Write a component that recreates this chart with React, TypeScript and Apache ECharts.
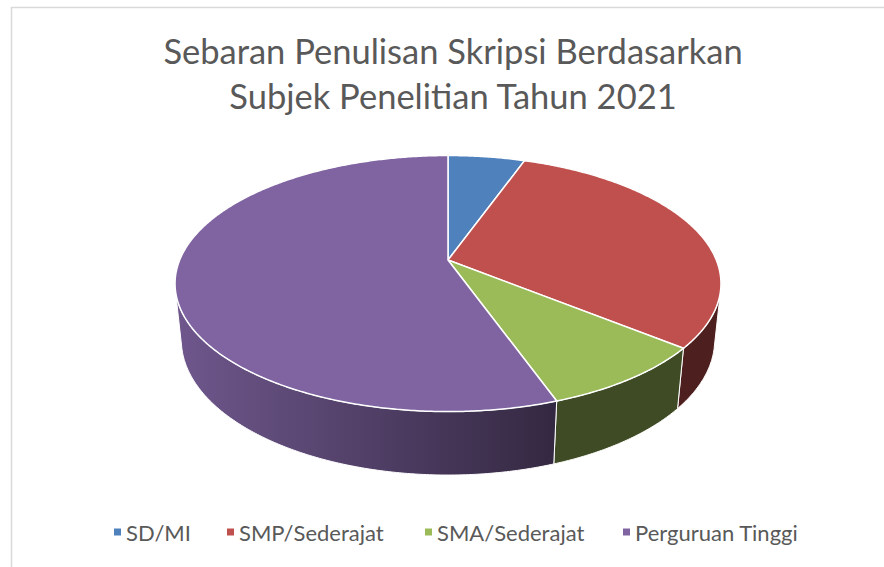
import React, { useEffect, useRef } from "react";
import * as echarts from "echarts";

const categories = ["SD/MI", "SMP/Sederajat", "SMA/Sederajat", "Perguruan Tinggi"];
const values = [5, 28, 8, 51];
const colors = ["#4F81BD", "#C0504D", "#9BBB59", "#8064A2"];
const titleText = "Sebaran Penulisan Skripsi Berdasarkan\nSubjek Penelitian Tahun 2021";

// 3D perspective layout constants
const CX = 448;
const CY = 260;
const A = 268.3;
const PHI = Math.asin(123.7 / 268.3);
const K = 0.184;
const DIST = Math.cos(PHI) / K;
const THICK = 0.238;
const LEGEND_LEFT = [109, 222, 420, 618];

function project(u: number, v: number, z: number): number[] {
  const depth = 1 - (v * Math.cos(PHI) + z * Math.sin(PHI)) / DIST;
  return [CX + (A * u) / depth, CY + (A * (v * Math.sin(PHI) - z * Math.cos(PHI))) / depth];
}
function rim(th: number, z: number) {
  return project(Math.sin(th), -Math.cos(th), z);
}
function shadeHex(hex: string, f: number) {
  const n = parseInt(hex.slice(1), 16);
  const r = Math.round(((n >> 16) & 255) * f);
  const g = Math.round(((n >> 8) & 255) * f);
  const b = Math.round((n & 255) * f);
  return `rgb(${r},${g},${b})`;
}
function factorAt(x: number) {
  return Math.max(0.4, 0.87 - 0.001227 * (x - 175));
}

function arcPoints(a: number, b: number, z: number) {
  const pts: number[][] = [];
  const steps = Math.max(2, Math.ceil(((b - a) * 180) / Math.PI / 0.5));
  for (let s = 0; s <= steps; s++) {
    pts.push(rim(a + ((b - a) * s) / steps, z));
  }
  return pts;
}

export default function App() {
  const ref = useRef<HTMLDivElement>(null);
  useEffect(() => {
    if (!ref.current) return;
    const chart = echarts.init(ref.current, undefined, { renderer: "svg" });
    const total = values.reduce((s, v) => s + v, 0);
    const vis = 1 / (DIST * Math.cos(PHI));
    const visA = Math.acos(-vis);
    const visB = 2 * Math.PI - visA;

    const series = categories.map((name, i) => ({
      type: "custom",
      name,
      coordinateSystem: "none",
      data: [values[i]],
      itemStyle: { color: colors[i] },
      renderItem: (params: any, api: any) => {
        const before = values.slice(0, i).reduce((s, v) => s + v, 0);
        const start = (before / total) * 2 * Math.PI;
        const end = ((before + (api.value(0) as number)) / total) * 2 * Math.PI;
        const children: any[] = [];
        const s = Math.max(start, visA);
        const e = Math.min(end, visB);
        if (e > s) {
          const top = arcPoints(s, e, 0);
          const bottom = arcPoints(s, e, -THICK).reverse();
          const x0 = CX - A * 1.02;
          const x1 = CX + A * 1.02;
          const stops = [0, 0.2, 0.4, 0.6, 0.7, 0.8, 1].map((o) => ({
            offset: o,
            color: shadeHex(colors[i], factorAt(x0 + (x1 - x0) * o)),
          }));
          children.push({
            type: "polygon",
            shape: { points: top.concat(bottom) },
            style: {
              fill: { type: "linear", x: x0, y: 0, x2: x1, y2: 0, global: true, colorStops: stops },
              stroke: "#ffffff",
              lineWidth: 1,
            },
          });
        }
        const face = [project(0, 0, 0)].concat(arcPoints(start, end, 0));
        children.push({
          type: "polygon",
          shape: { points: face },
          style: { fill: colors[i], stroke: "#ffffff", lineWidth: 1.5 },
        });
        return { type: "group", children };
      },
    }));

    chart.setOption({
      animation: false,
      title: {
        text: titleText,
        left: 448,
        top: 23,
        textAlign: "center",
        textStyle: {
          fontFamily: "Lato",
          fontSize: 34.5,
          fontWeight: "normal",
          color: "#595959",
          lineHeight: 45,
        },
      },
      legend: categories.map((c, i) => ({
        data: [c],
        left: LEGEND_LEFT[i],
        top: 516,
        icon: "rect",
        itemWidth: 7,
        itemHeight: 7,
        selectedMode: false,
        textStyle: { fontFamily: "Lato", fontSize: 22, color: "#595959" },
      })),
      graphic: [
        {
          type: "rect",
          silent: true,
          z: -10,
          shape: { x: 11.5, y: 7.5, width: 1000, height: 1000 },
          style: { fill: "none", stroke: "#d9d9d9", lineWidth: 1.5 },
        },
      ],
      series,
    });
    return () => chart.dispose();
  }, []);
  return (
    <div
      ref={ref}
      style={{ position: "fixed", left: 0, top: 0, width: 884, height: 567, background: "#ffffff" }}
    />
  );
}
